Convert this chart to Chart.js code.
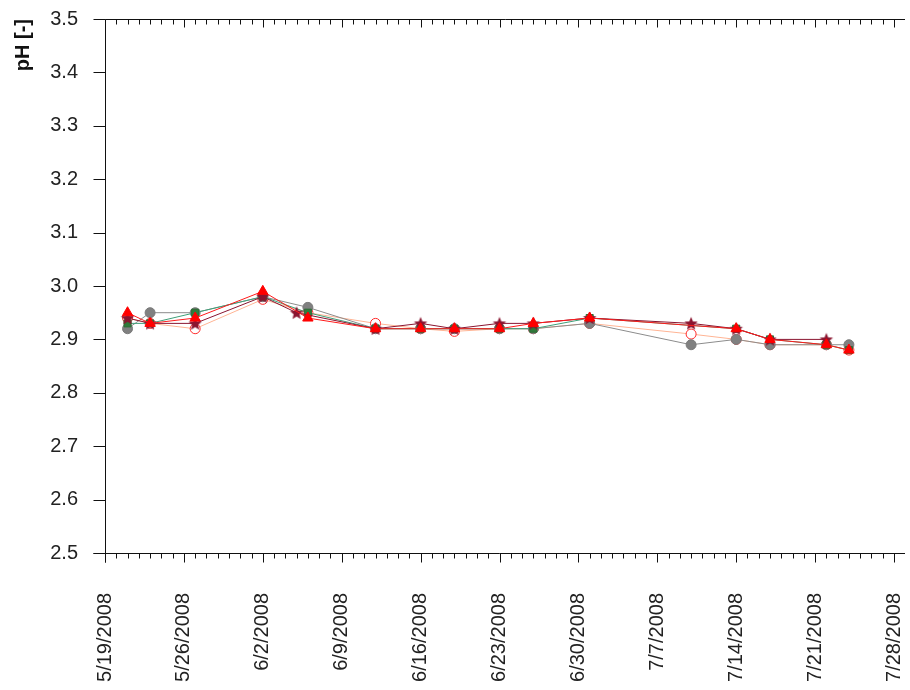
<!DOCTYPE html>
<html>
<head>
<meta charset="utf-8">
<script src="https://cdn.jsdelivr.net/npm/chart.js@4/dist/chart.umd.min.js"></script>
<style>
  html, body { margin: 0; padding: 0; background: #fff; }
  #wrap { width: 910px; height: 690px; }
</style>
</head>
<body>
<div id="wrap"><canvas id="c" width="910" height="690"></canvas></div>
<script>
// Sampling dates (pH measurements)
const sampleDates = ['2008-05-21','2008-05-23','2008-05-27','2008-06-02','2008-06-05','2008-06-06',
  '2008-06-12','2008-06-16','2008-06-19','2008-06-23','2008-06-26','2008-07-01',
  '2008-07-10','2008-07-14','2008-07-17','2008-07-22','2008-07-24'];

// pH per sampling point
const phGray   = [2.92, 2.95, 2.95, 2.98, null, 2.96, 2.92, 2.92, 2.92, 2.92, 2.92, 2.93, 2.89, 2.90, 2.89, 2.89, 2.89];
const phGreen  = [2.93, 2.93, 2.95, 2.98, null, 2.95, 2.92, 2.92, 2.92, 2.92, 2.92, 2.94, null, 2.92, 2.90, 2.89, 2.88];
const phRed    = [2.95, 2.93, 2.94, 2.99, null, 2.94, 2.92, 2.92, 2.92, 2.92, 2.93, 2.94, null, 2.92, 2.90, 2.89, 2.88];
const phStar   = [2.94, 2.93, 2.93, 2.98, 2.95, null, 2.92, 2.93, 2.92, 2.93, 2.93, 2.94, 2.93, 2.92, 2.90, 2.90, null];
const phOpen   = [2.94, 2.93, 2.92, 2.975, null, 2.95, 2.93, 2.92, 2.915, 2.92, 2.92, 2.93, 2.91, 2.90, 2.89, 2.89, 2.88];

// Axis settings
const startDate = '2008-05-19';
const dayMax = 70;
const yMin = 2.5, yMax = 3.5, yStep = 0.1;

const DAY = 86400000;
const t0 = Date.parse(startDate + 'T00:00:00Z');
const dayOf = s => (Date.parse(s + 'T00:00:00Z') - t0) / DAY;
const fmtDay = d => {
  const dt = new Date(t0 + d * DAY);
  return (dt.getUTCMonth() + 1) + '/' + dt.getUTCDate() + '/' + dt.getUTCFullYear();
};
const toXY = vals => sampleDates.map((s, i) => ({ x: dayOf(s), y: vals[i] }));

// filled five-point star marker
function starMarker(r, color) {
  const c = document.createElement('canvas');
  const s = Math.ceil(2 * r + 2);
  c.width = s; c.height = s;
  const g = c.getContext('2d');
  g.translate(s / 2, s / 2 + 0.5);
  g.beginPath();
  for (let i = 0; i < 10; i++) {
    const rr = i % 2 === 0 ? r : r * 0.45;
    const a = -Math.PI / 2 + i * Math.PI / 5;
    g.lineTo(rr * Math.cos(a), rr * Math.sin(a));
  }
  g.closePath();
  g.fillStyle = color;
  g.fill();
  return c;
}

// axis lines and tick marks drawn from the scales
const axisFrame = {
  id: 'axisFrame',
  afterDraw(chart) {
    const { ctx, chartArea: a } = chart;
    const xs = chart.scales.x, ys = chart.scales.y;
    ctx.save();
    ctx.strokeStyle = '#111';
    ctx.lineWidth = 1;
    ctx.beginPath();
    const L = Math.round(a.left) + 0.5, B = Math.round(a.bottom) + 0.5, T = Math.round(a.top) + 0.5;
    ctx.moveTo(L, T); ctx.lineTo(L, B + 9);
    ctx.moveTo(L - 12, B); ctx.lineTo(a.right + 11, B);
    ctx.moveTo(L, T); ctx.lineTo(a.right + 11, T);
    for (let v = yMin; v <= yMax + 1e-9; v += yStep) {
      const y = Math.round(ys.getPixelForValue(v)) + 0.5;
      ctx.moveTo(L - 12, y); ctx.lineTo(L, y);
    }
    for (let d = 0; d <= dayMax; d++) {
      const x = Math.round(xs.getPixelForValue(d)) + 0.5;
      const major = d % 7 === 0;
      ctx.moveTo(x, B); ctx.lineTo(x, B + (major ? 9 : 5));
      ctx.moveTo(x, T); ctx.lineTo(x, T + (major ? 8 : 5));
    }
    ctx.stroke();
    ctx.restore();
  }
};

const font = 'Liberation Sans, Arial, sans-serif';

const ds = (vals, o) => Object.assign({
  data: toXY(vals),
  showLine: true,
  spanGaps: true,
  borderWidth: 1,
  pointRadius: 5,
  pointBorderWidth: 1
}, o);

new Chart(document.getElementById('c'), {
  type: 'scatter',
  data: {
    datasets: [
      ds(phOpen,  { label: 'open',  borderColor: '#ffb494', pointBorderColor: '#ff2a2a', pointBackgroundColor: '#ffffff', pointStyle: 'circle', pointRadius: 5, order: 5 }),
      ds(phGray,  { label: 'gray',  borderColor: '#8c8c8c', pointBorderColor: '#7a7a7a', pointBackgroundColor: '#808080', pointStyle: 'circle', order: 4 }),
      ds(phGreen, { label: 'green', borderColor: '#3f9f78', pointBorderColor: '#2d6b35', pointBackgroundColor: '#2f7a3a', pointStyle: 'rect', pointRadius: 5, order: 3 }),
      ds(phStar,  { label: 'star',  borderColor: '#8a1530', pointStyle: starMarker(7, '#8a1530'), order: 2 }),
      ds(phRed,   { label: 'red',   borderColor: '#ff1a1a', pointBorderColor: '#ff0000', pointBackgroundColor: '#ff0000', pointStyle: 'triangle', pointRadius: 6, order: 1 })
    ]
  },
  options: {
    responsive: false,
    animation: false,
    events: [],
    layout: { padding: { top: 19, right: 16, left: 0, bottom: 0 } },
    plugins: { legend: { display: false }, tooltip: { enabled: false } },
    scales: {
      x: {
        type: 'linear',
        min: 0, max: dayMax,
        grid: { display: false },
        border: { display: false },
        afterFit: s => { s.height = 137; s.paddingLeft = 0; s.paddingRight = 0; },
        ticks: {
          stepSize: 7,
          autoSkip: false,
          maxRotation: 90, minRotation: 90,
          padding: 32,
          color: '#222',
          font: { family: font, size: 20 },
          callback: v => fmtDay(v)
        }
      },
      y: {
        min: yMin, max: yMax,
        grid: { display: false },
        border: { display: false },
        afterFit: s => { s.width = 105; s.paddingTop = 0; s.paddingBottom = 0; },
        title: {
          display: true, text: 'pH [-]', align: 'end',
          color: '#111',
          font: { family: font, size: 20, weight: 'bold' },
          padding: { top: 11, bottom: 0 }
        },
        ticks: {
          stepSize: yStep,
          padding: 19,
          color: '#222',
          font: { family: font, size: 20 },
          callback: v => Number(v).toFixed(1)
        }
      }
    }
  },
  plugins: [axisFrame]
});
</script>
</body>
</html>
